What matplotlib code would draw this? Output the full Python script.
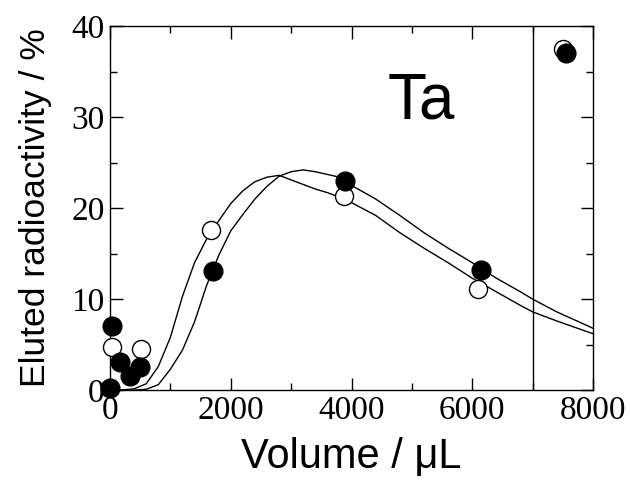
import matplotlib
matplotlib.use("Agg")
import matplotlib.pyplot as plt
from matplotlib.ticker import MultipleLocator

# measured points (open / filled circles)
open_x = [30, 510, 1680, 3870, 6100, 7500]
open_y = [4.7, 4.5, 17.6, 21.3, 11.1, 37.5]
filled_x = [0, 30, 165, 330, 500, 1700, 3900, 6150, 7550]
filled_y = [0.2, 7.1, 3.1, 1.6, 2.5, 13.1, 23.0, 13.2, 37.0]

# fitted curves
curve_x = [0, 200, 400, 600, 800, 1000, 1200, 1400, 1600, 1800, 2000, 2200,
           2400, 2600, 2800, 3000, 3200, 3400, 3600, 3800, 4000, 4400, 4800,
           5200, 5600, 6000, 6400, 6800, 7000, 7400, 8000]
open_fit = [0.0, 0.02, 0.15, 0.7, 2.6, 5.8, 10.3, 14.0, 16.6, 18.6, 20.5, 21.9,
            22.9, 23.4, 23.6, 23.1, 22.6, 22.1, 21.7, 21.2, 20.6, 19.2, 17.3,
            15.6, 14.0, 12.3, 10.8, 9.3, 8.6, 7.6, 6.2]
filled_fit = [0.0, 0.0, 0.0, 0.1, 0.6, 2.3, 4.4, 7.5, 11.5, 14.8, 17.5, 19.3,
              21.0, 22.4, 23.5, 24.0, 24.2, 24.0, 23.7, 23.4, 22.5, 21.0, 19.2,
              17.3, 15.6, 14.0, 12.3, 10.8, 10.0, 8.6, 6.8]

x_ticks = [0, 2000, 4000, 6000, 8000]
y_ticks = [0, 10, 20, 30, 40]
boundary_x = 7000

fig = plt.figure(figsize=(6.3, 4.92), dpi=100)
ax = fig.add_axes([0.1746, 0.207, 0.7667, 0.740])

ax.plot(curve_x, open_fit, color="black", linewidth=1.0, zorder=2)
ax.plot(curve_x, filled_fit, color="black", linewidth=1.0, zorder=2)
ax.axvline(boundary_x, color="black", linewidth=1.0, zorder=2)

ax.plot(open_x, open_y, linestyle="none", marker="o", markersize=13,
        markerfacecolor="white", markeredgecolor="black", markeredgewidth=1.0,
        zorder=3, clip_on=False)
ax.plot(filled_x, filled_y, linestyle="none", marker="o", markersize=13.5,
        markerfacecolor="black", markeredgecolor="black", markeredgewidth=1.0,
        zorder=4, clip_on=False)

ax.text(4600, 29.8, "Ta", fontsize=46, family="Liberation Sans",
        ha="left", va="baseline")

ax.set_xlim(0, 8000)
ax.set_ylim(0, 40)
ax.set_xticks(x_ticks)
ax.set_yticks(y_ticks)
ax.xaxis.set_minor_locator(MultipleLocator(1000))
ax.yaxis.set_minor_locator(MultipleLocator(5))
ax.tick_params(which="both", direction="in", top=True, right=True, width=1.0)
ax.tick_params(which="major", length=9, pad=4, labelsize=24)
ax.tick_params(which="minor", length=5)
for label in ax.get_xticklabels() + ax.get_yticklabels():
    label.set_family("Liberation Serif")
for spine in ax.spines.values():
    spine.set_linewidth(1.0)

ax.set_xlabel("Volume / μL", fontsize=30, family="Liberation Sans", labelpad=8)
ax.set_ylabel("Eluted radioactivity / %", fontsize=25.5, family="Liberation Sans",
              labelpad=14)

fig.savefig("out.png", dpi=100)
